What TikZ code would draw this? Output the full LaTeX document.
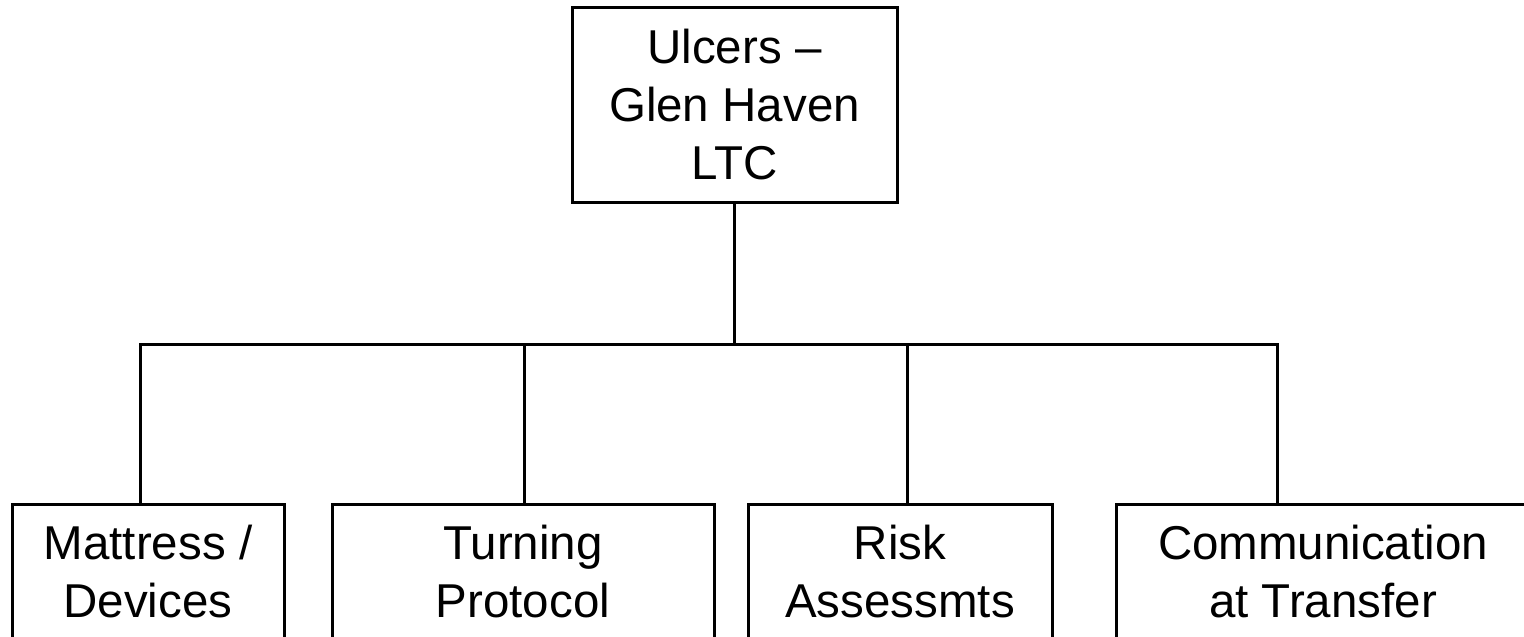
\documentclass[tikz,border=0pt]{standalone}
\usepackage{fontspec}
\setmainfont{Liberation Sans}
\begin{document}
\begin{tikzpicture}[x=1pt,y=-1pt,
  box/.style={draw, line width=3pt, inner sep=0pt, align=center,
    font=\fontsize{47.5}{58}\selectfont},
  wire/.style={line width=3pt}]
\useasboundingbox (0,0) rectangle (1524,637);
\clip (0,0) rectangle (1524,637);
\node[box, minimum width=325pt, minimum height=195pt] (top) at (734.5,104.5) {Ulcers –\\Glen Haven\\LTC};
\node[box, minimum width=272pt, minimum height=136pt] (b1) at (148,572) {Mattress /\\Devices};
\node[box, minimum width=382pt, minimum height=136pt] (b2) at (523,572) {Turning\\Protocol};
\node[box, minimum width=304pt, minimum height=136pt] (b3) at (900,572) {Risk\\Assessmts};
\node[box, minimum width=414pt, minimum height=136pt] (b4) at (1323,572) {Communication\\at Transfer};
\coordinate (bus) at (734.5,344);
\coordinate (bl) at (140,344);
\coordinate (br) at (1277,344);
\coordinate (d2) at (524,344);
\coordinate (d3) at (907,344);
\draw[wire] (top.south) -- (bus);
\draw[wire] (bl |- b1.north) -- (bl) -- (br) -- (br |- b4.north);
\draw[wire] (d2) -- (d2 |- b2.north);
\draw[wire] (d3) -- (d3 |- b3.north);
\end{tikzpicture}
\end{document}
